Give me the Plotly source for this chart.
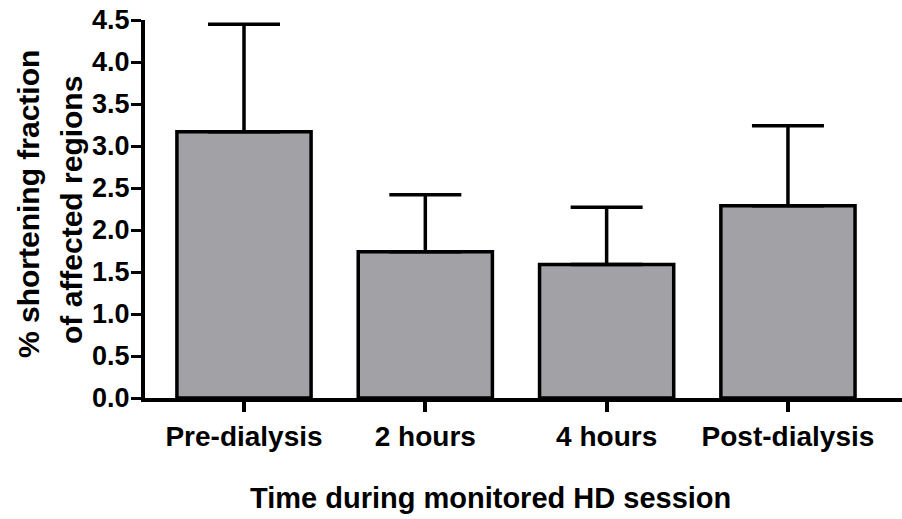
import plotly.graph_objects as go

# Shortening fraction of affected regions across the HD session
categories = ["Pre-dialysis", "2 hours", "4 hours", "Post-dialysis"]
mean_values = [3.17, 1.74, 1.59, 2.29]
upper_values = [4.45, 2.42, 2.27, 3.24]
y_tick_values = [0.0, 0.5, 1.0, 1.5, 2.0, 2.5, 3.0, 3.5, 4.0, 4.5]
y_tick_labels = ["0.0", "0.5", "1.0", "1.5", "2.0", "2.5", "3.0", "3.5", "4.0", "4.5"]

sem = [u - m for u, m in zip(upper_values, mean_values)]
x_pos = list(range(len(categories)))

W, H = 902, 519
ML, MR, MT, MB = 145, 0, 20, 121
PW, PH = W - ML - MR, H - MT - MB

FONT = "Liberation Sans, Arial, Helvetica, sans-serif"

fig = go.Figure()
fig.add_trace(go.Bar(
    x=x_pos,
    y=mean_values,
    width=0.74,
    marker=dict(color="rgb(161,161,166)", line=dict(color="black", width=3.5)),
    error_y=dict(type="data", array=sem, arrayminus=[0] * len(sem),
                 symmetric=False, width=36, thickness=3.5, color="black"),
    showlegend=False,
))

fig.update_layout(
    width=W, height=H,
    margin=dict(l=ML, r=MR, t=MT, b=MB, pad=0),
    paper_bgcolor="white", plot_bgcolor="white",
    font=dict(family=FONT, color="black"),
    bargap=0.26,
)

fig.update_xaxes(
    range=[-0.546, 3.629],
    tickvals=x_pos, ticktext=categories,
    ticks="outside", ticklen=10, tickwidth=4, tickcolor="black",
    tickfont=dict(family=FONT, size=28, color="black", weight="bold"),
    showline=True, linewidth=4, linecolor="black",
    showgrid=False, zeroline=False,
)
fig.update_yaxes(
    range=[0, 4.5],
    tickvals=y_tick_values, ticktext=y_tick_labels,
    ticks="outside", ticklen=10, tickwidth=3, tickcolor="black",
    ticklabelstandoff=-4,
    tickfont=dict(family=FONT, size=27, color="black", weight="bold"),
    showline=True, linewidth=4, linecolor="black",
    showgrid=False, zeroline=False,
)

def px_x(p):
    return (p - ML) / PW

def px_y(p):
    return (H - MB - p) / PH

title_font = dict(family=FONT, size=30, color="black", weight="bold")
fig.add_annotation(text="% shortening fraction", textangle=-90,
                   xref="paper", yref="paper", x=px_x(28), y=px_y(204),
                   xanchor="center", yanchor="middle", showarrow=False,
                   font=title_font)
fig.add_annotation(text="of affected regions", textangle=-90,
                   xref="paper", yref="paper", x=px_x(71), y=px_y(210),
                   xanchor="center", yanchor="middle", showarrow=False,
                   font=title_font)
fig.add_annotation(text="Time during monitored HD session",
                   xref="paper", yref="paper", x=px_x(490), y=px_y(498),
                   xanchor="center", yanchor="middle", showarrow=False,
                   font=dict(family=FONT, size=29, color="black", weight="bold"))

fig.write_html("out.html")
